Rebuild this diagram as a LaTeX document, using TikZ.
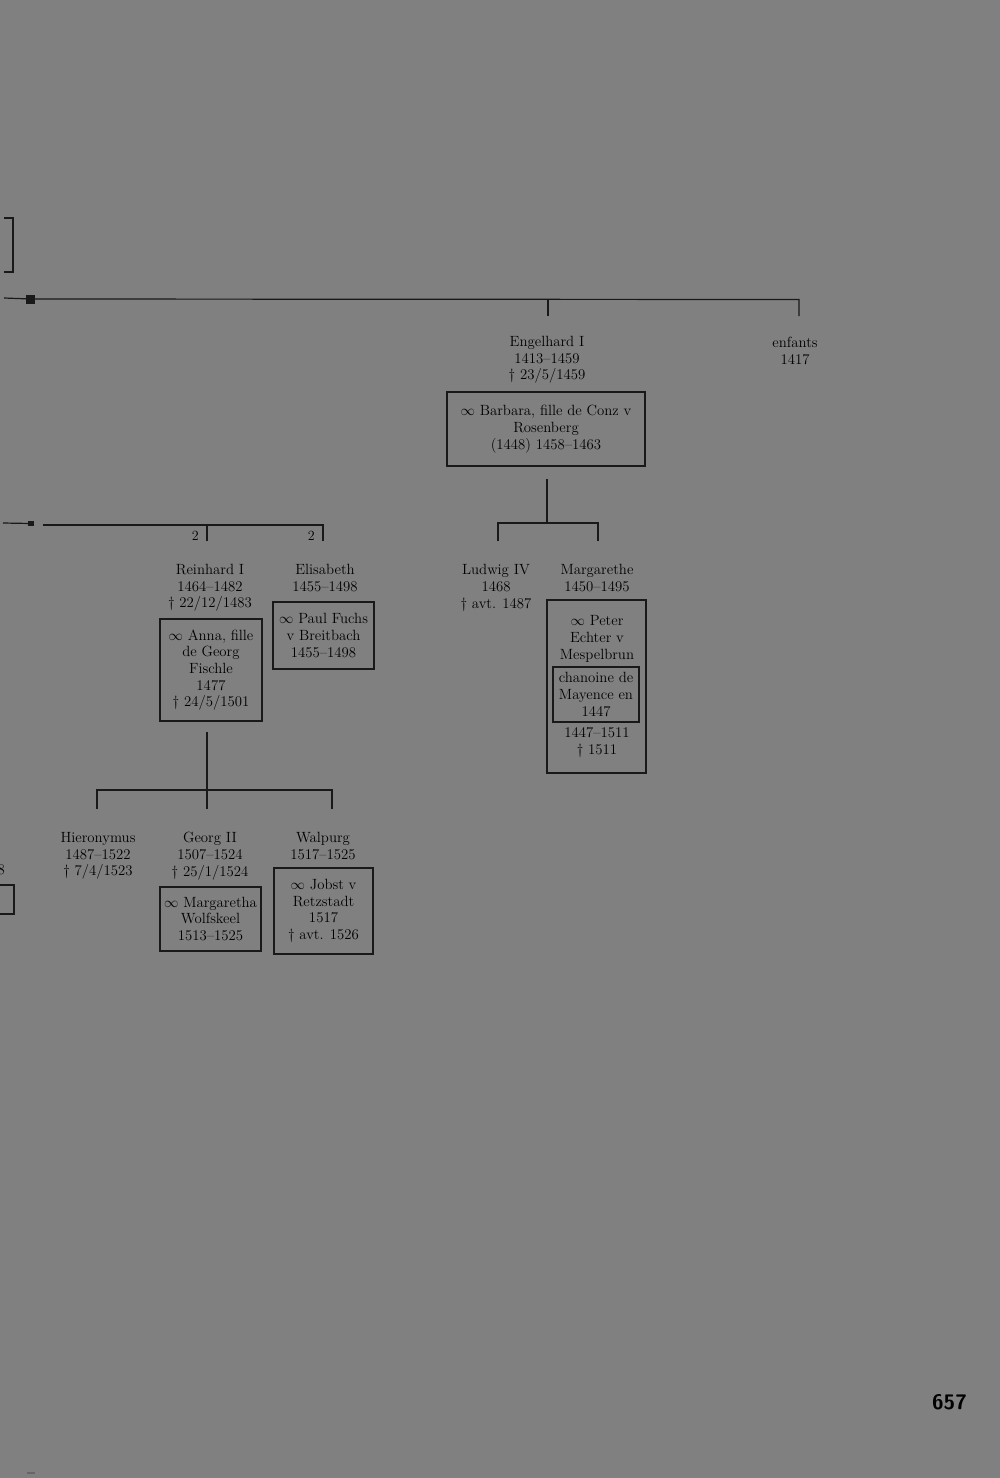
\documentclass[tikz,border=0pt]{standalone}
\usepackage{tikz}
\usetikzlibrary{positioning, calc}

\begin{document}
\begin{tikzpicture}[
        x=1pt, y=-1pt,
        person/.style={align=center, inner sep=0pt, text=black, font=\fontsize{14.8}{16.7}\selectfont},
        spouse/.style={draw=black!90, line width=1.1pt, align=center, inner sep=0pt, text=black, font=\fontsize{14.8}{16.7}\selectfont},
        line/.style={line width=1.2pt, draw=black!90},
        blob/.style={fill=black!90, inner sep=0pt},
        degree/.style={inner sep=0pt, text=black, font=\fontsize{14}{16}\selectfont}
    ]
        \useasboundingbox (0,0) rectangle (1000,1478);
        \fill[gray] (0,0) rectangle (1000,1478);

        % --- FRAGMENTS FROM THE PREVIOUS PAGE ---
        \draw[line] (4,218) -| (13,272) -- (4,272);
        \draw[line] (0,885) -| (14,914) -- (0,914);
        \node[person, anchor=east] (frag8) at (5,870) {8};

        % --- TOP LINE ---
        \coordinate (top-l) at (4,298);
        \node[blob, minimum size=9pt] (sq-top) at (30.5,299) {};
        \coordinate (top-r) at (799,299.5);
        \coordinate (top-engel) at (548,316);
        \coordinate (top-enf) at (799,316);
        \draw[line] (top-l) -- (sq-top);
        \draw[line] (sq-top) -- (top-r) -- (top-enf);
        \draw[line] (top-engel) -- (top-engel |- top-r);

        \node[person] (engel) at (547,360) {Engelhard I\\1413--1459\\\dag\ 23/5/1459};
        \node[person] (enfants) at (795,351) {enfants\\1417};
        \node[spouse, minimum width=198pt, minimum height=74pt] (barbara) at (546,429)
            {$\infty$ Barbara, fille de Conz v\\Rosenberg\\(1448) 1458--1463};

        % --- CHILDREN OF ENGELHARD ---
        \coordinate (eng-v) at (547,479);
        \coordinate (eng-bar) at (547,523);
        \coordinate (eng-l) at (498,541);
        \coordinate (eng-r) at (598,541);
        \draw[line] (eng-v) -- (eng-bar);
        \draw[line] (eng-l) |- (eng-bar) -| (eng-r);

        \node[person] (ludwig) at (496,588) {Ludwig IV\\1468\\\dag\ avt. 1487};
        \node[person] (margarethe) at (597,578) {Margarethe\\1450--1495};
        \node[spouse, minimum width=99pt, minimum height=173pt] (peter) at (596.5,686.5) {};
        \node[person] (peter-name) at (597,639) {$\infty$ Peter\\Echter v\\Mespelbrun};
        \node[spouse, minimum width=86pt, minimum height=55pt] (canon) at (596,694.5)
            {chanoine de\\Mayence en\\1447};
        \node[person] (peter-dates) at (597,742.5) {1447--1511\\\dag\ 1511};

        % --- SECOND LINE ---
        \coordinate (mid-l) at (3,523);
        \node[blob, minimum width=6pt, minimum height=5pt] (sq-mid) at (31,523.5) {};
        \coordinate (mid-a) at (43,525);
        \coordinate (mid-r) at (323,525);
        \coordinate (mid-rein) at (207,541);
        \coordinate (mid-elis) at (323,541);
        \draw[line] (mid-l) -- (sq-mid);
        \draw[line] (mid-a) -- (mid-r) -- (mid-elis);
        \draw[line] (mid-rein) -- (mid-rein |- mid-r);
        \node[degree, left=8pt of mid-rein, yshift=5pt] (deg-rein) {2};
        \node[degree, left=8pt of mid-elis, yshift=5pt] (deg-elis) {2};

        \node[person] (reinhard) at (210,588) {Reinhard I\\1464--1482\\\dag\ 22/12/1483};
        \node[spouse, minimum width=102pt, minimum height=102pt] (anna) at (211,670)
            {$\infty$ Anna, fille\\de Georg\\Fischle\\1477\\\dag\ 24/5/1501};
        \node[person] (elisabeth) at (325,578) {Elisabeth\\1455--1498};
        \node[spouse, minimum width=101pt, minimum height=67pt] (paul) at (323.5,635.5)
            {$\infty$ Paul Fuchs\\v Breitbach\\1455--1498};

        % --- CHILDREN OF REINHARD ---
        \coordinate (rein-v) at (207,732);
        \coordinate (rein-bar) at (207,790);
        \coordinate (rein-l) at (97,809);
        \coordinate (rein-m) at (207,809);
        \coordinate (rein-r) at (332,809);
        \draw[line] (rein-v) -- (rein-m);
        \draw[line] (rein-l) |- (rein-bar) -| (rein-r);

        \node[person] (hieron) at (98,856) {Hieronymus\\1487--1522\\\dag\ 7/4/1523};
        \node[person] (georg) at (210,856) {Georg II\\1507--1524\\\dag\ 25/1/1524};
        \node[spouse, minimum width=101pt, minimum height=64pt] (wolfskeel) at (210.5,919)
            {$\infty$ Margaretha\\Wolfskeel\\1513--1525};
        \node[person] (walpurg) at (323,846) {Walpurg\\1517--1525};
        \node[spouse, minimum width=99pt, minimum height=86pt] (jobst) at (323.5,911)
            {$\infty$ Jobst v\\Retzstadt\\1517\\\dag\ avt. 1526};

        % --- PAGE NUMBER ---
        \node[inner sep=0pt, text=black, font=\fontsize{21}{24}\sffamily\bfseries] (page) at (949.5,1402) {657};
        \coordinate (dash-l) at (27,1473);
        \coordinate (dash-r) at (35,1473);
        \draw[line, draw=black!60] (dash-l) -- (dash-r);
    \end{tikzpicture}
\end{document}
